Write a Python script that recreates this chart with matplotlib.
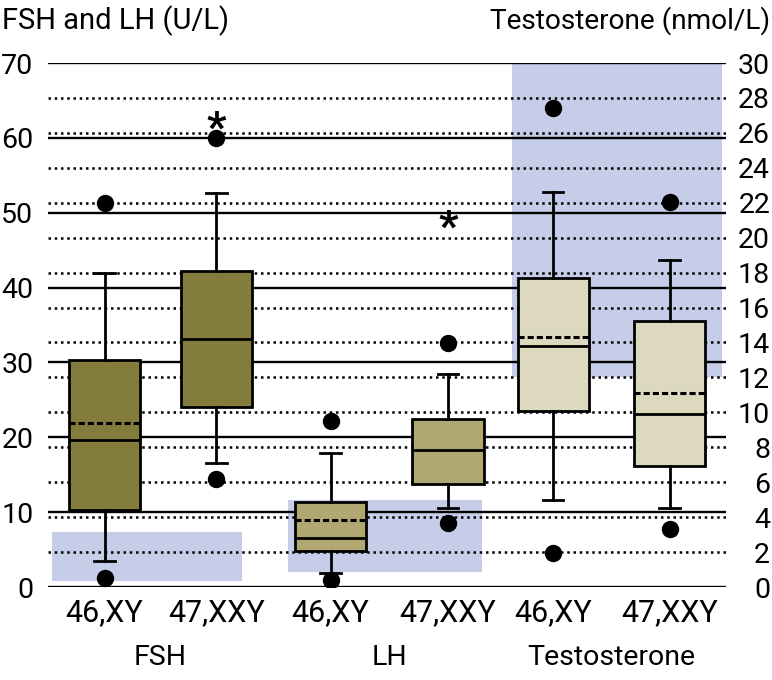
import matplotlib
matplotlib.use('Agg')
import matplotlib.pyplot as plt
from matplotlib.patches import Rectangle

# ---------------- data ----------------
groups = ['FSH', 'LH', 'Testosterone']
categories = ['46,XY', '47,XXY', '46,XY', '47,XXY', '46,XY', '47,XXY']
whislo = [3.5, 16.5, 1.9, 10.6, 5.0, 4.5]
q1 = [10.3, 24.0, 4.8, 13.7, 10.1, 6.9]
med = [19.7, 33.1, 6.6, 18.3, 13.8, 9.9]
q3 = [30.3, 42.2, 11.3, 22.4, 17.7, 15.25]
whishi = [42.0, 52.7, 17.9, 28.5, 22.6, 18.7]
means = [21.9, None, 8.95, None, 14.3, 11.1]
fliers = [[51.3, 1.2], [60.0, 14.4], [22.2, 0.9], [32.6, 8.6], [27.4, 1.96], [22.06, 3.3]]
fsh_ref = (0.85, 7.4)     # U/L
lh_ref = (2.0, 11.6)      # U/L
t_ref = (12.0, 30.0)      # nmol/L
left_ticks = list(range(0, 71, 10))
right_ticks = list(range(0, 31, 2))
signif = [(1, 62.5), (3, 49.3)]   # (box index, U/L)

# ---------------- style ----------------
plt.rcParams['font.family'] = ['Roboto', 'DejaVu Sans']
box_colors = ['#847c3d', '#847c3d', '#b0a772', '#b0a772', '#dcd9bf', '#dcd9bf']
blue = '#c5cde8'
positions = [0, 0.99, 2, 3.04, 3.97, 5]
width = 0.63
LW = 2.0

fig = plt.figure(figsize=(7.72, 6.8), dpi=100)
ax = fig.add_axes([48/772, 1-587/680, (726-48)/772, 524/680])
ax2 = ax.twinx()
ax.set_xlim(-0.5, 5.5)
ax.set_ylim(0, 70)
ax2.set_ylim(0, 30)

# reference ranges
ax.add_patch(Rectangle((-0.462, fsh_ref[0]), 1.214+0.462, fsh_ref[1]-fsh_ref[0],
                       facecolor=blue, edgecolor='none', zorder=0.5))
ax.add_patch(Rectangle((1.627, lh_ref[0]), 3.343-1.627, lh_ref[1]-lh_ref[0],
                       facecolor=blue, edgecolor='none', zorder=0.5))
ax.add_patch(Rectangle((3.604, t_ref[0]), 5.467-3.604, t_ref[1]-t_ref[0],
                       facecolor=blue, edgecolor='none', zorder=0.5,
                       transform=ax2.transData))

# grid lines
for v in left_ticks:
    ax.plot([-0.5, 5.5], [v, v], color='black', lw=1.7, zorder=1, solid_capstyle='butt')
for v in right_ticks[1:-1]:
    ax.plot([-0.5, 5.5], [v, v], color='black', lw=1.8, zorder=1,
            linestyle=(0, (1, 1.5)), transform=ax2.transData)

def stats_for(i):
    return dict(med=med[i], q1=q1[i], q3=q3[i], whislo=whislo[i], whishi=whishi[i],
                fliers=fliers[i], label=categories[i])

common = dict(widths=width, patch_artist=True, manage_ticks=False, capwidths=0.18,
              boxprops=dict(edgecolor='black', linewidth=LW),
              medianprops=dict(color='black', linewidth=LW),
              whiskerprops=dict(color='black', linewidth=LW),
              capprops=dict(color='black', linewidth=LW),
              flierprops=dict(marker='o', markerfacecolor='black', markeredgecolor='black',
                              markersize=11.5),
              zorder=3)

b1 = ax.bxp([stats_for(i) for i in range(4)], positions=positions[:4], **common)
b2 = ax2.bxp([stats_for(i) for i in range(4, 6)], positions=positions[4:], **common)
for patch, c in zip(b1['boxes'] + b2['boxes'], box_colors):
    patch.set_facecolor(c)

# mean lines (dashed)
for i, m in enumerate(means):
    if m is None:
        continue
    tgt = ax if i < 4 else ax2
    tgt.plot([positions[i]-width/2, positions[i]+width/2], [m, m], color='black', lw=2.2,
             linestyle=(0, (2, 1)), zorder=4)

# significance asterisks
for i, v in signif:
    ax.text(positions[i], v - 1.3, '*', ha='center', va='center', fontsize=31,
            fontweight='bold', zorder=5)

ax.set_xlim(-0.5, 5.5)
ax.set_ylim(0, 70)
ax2.set_ylim(0, 30)

for a in (ax, ax2):
    for s in a.spines.values():
        s.set_visible(False)

ax.set_yticks(left_ticks)
ax.tick_params(axis='y', length=0, pad=10.5, labelsize=20.5)
ax.set_xticks(positions, categories)
ax.tick_params(axis='x', length=0, pad=8, labelsize=22)
ax2.set_yticks(right_ticks)
ax2.tick_params(axis='y', length=0, pad=31.7, labelsize=20.5)
for lab in ax2.get_yticklabels():
    lab.set_horizontalalignment('right')

for j, g in enumerate(groups):
    ax.text((positions[2*j] + positions[2*j+1]) / 2, -0.134, g, ha='center', va='center',
            fontsize=20.5, transform=ax.get_xaxis_transform())

fig.text(2/772, 1-21/680, 'FSH and LH (U/L)', ha='left', va='center', fontsize=21)
fig.text(770/772, 1-21/680, 'Testosterone (nmol/L)', ha='right', va='center', fontsize=20.2)

fig.savefig('out.png', dpi=100)
